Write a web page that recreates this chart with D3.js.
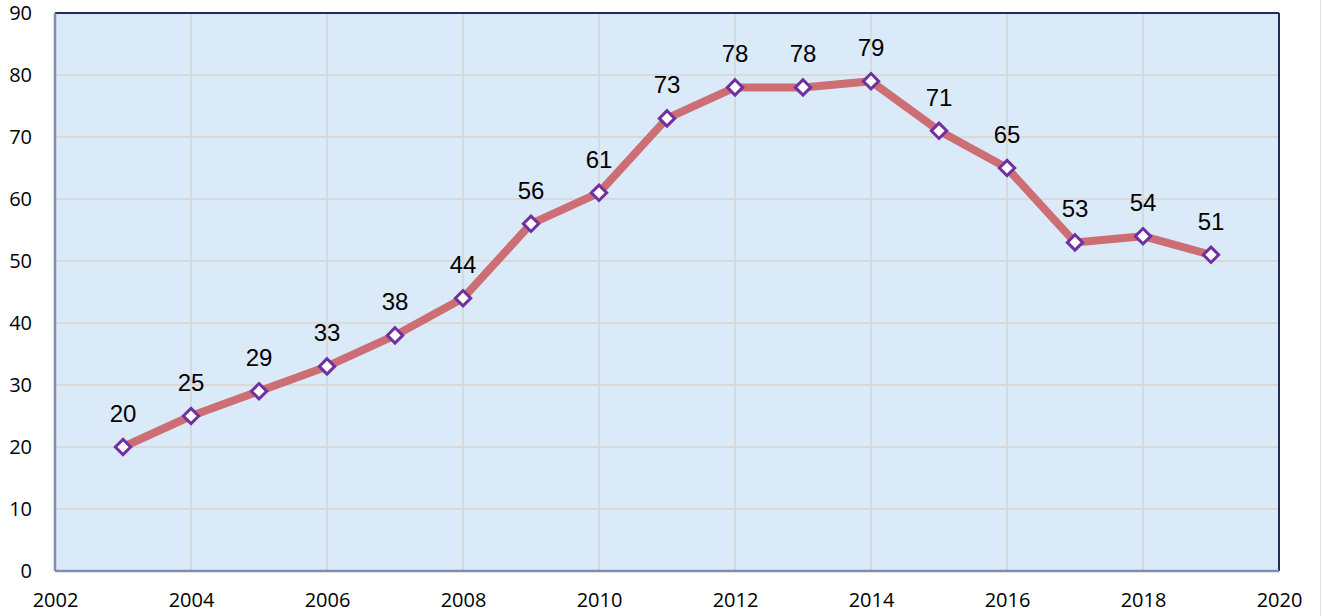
<!DOCTYPE html>
<html>
<head>
<meta charset="UTF-8">
<script src="https://d3js.org/d3.v7.min.js"></script>
<style>
  body { margin: 0; background: #ffffff; }
  svg { display: block; }
</style>
</head>
<body>
<svg width="1322" height="616"></svg>
<script>
  // data
  const years = [2003, 2004, 2005, 2006, 2007, 2008, 2009, 2010, 2011, 2012, 2013, 2014, 2015, 2016, 2017, 2018, 2019];
  const values = [20, 25, 29, 33, 38, 44, 56, 61, 73, 78, 78, 79, 71, 65, 53, 54, 51];
  const xTicks = [2002, 2004, 2006, 2008, 2010, 2012, 2014, 2016, 2018, 2020];
  const yTicks = [0, 10, 20, 30, 40, 50, 60, 70, 80, 90];

  const data = years.map((y, i) => ({ year: y, value: values[i] }));

  const plotL = 55, plotR = 1279, plotT = 13, plotB = 571;
  const svg = d3.select("svg");

  const x = d3.scaleLinear().domain([2002, 2020]).range([plotL, plotR]);
  const y = d3.scaleLinear().domain([0, 90]).range([plotB, plotT]);

  // plot background
  svg.append("rect")
     .attr("x", plotL).attr("y", plotT)
     .attr("width", plotR - plotL).attr("height", plotB - plotT)
     .style("fill", "#dbeaf8");

  // gridlines
  svg.selectAll("line.hgrid")
     .data(yTicks.slice(1, -1))
     .enter().append("line")
     .attr("x1", plotL).attr("x2", plotR)
     .attr("y1", d => y(d)).attr("y2", d => y(d))
     .style("stroke", "#d9d9d9").style("stroke-width", 2);

  svg.selectAll("line.vgrid")
     .data(xTicks.slice(1, -1))
     .enter().append("line")
     .attr("x1", d => x(d)).attr("x2", d => x(d))
     .attr("y1", plotT).attr("y2", plotB)
     .style("stroke", "#d9d9d9").style("stroke-width", 2);

  // frame: dark on top/right, grey-blue on left/bottom
  svg.append("line").attr("x1", plotL).attr("x2", plotR).attr("y1", plotT).attr("y2", plotT)
     .style("stroke", "#1f2d5e").style("stroke-width", 2);
  svg.append("line").attr("x1", plotR).attr("x2", plotR).attr("y1", plotT).attr("y2", plotB)
     .style("stroke", "#1f2d5e").style("stroke-width", 2);
  svg.append("line").attr("x1", plotL).attr("x2", plotL).attr("y1", plotT).attr("y2", plotB)
     .style("stroke", "#7f8db0").style("stroke-width", 2.5);
  svg.append("line").attr("x1", plotL).attr("x2", plotR).attr("y1", plotB).attr("y2", plotB)
     .style("stroke", "#7f8db0").style("stroke-width", 2.5);

  // axis labels
  const yAxis = d3.axisLeft(y).tickValues(yTicks).tickSize(0).tickPadding(23);
  svg.append("g").attr("transform", `translate(${plotL},0)`).call(yAxis)
     .call(g => g.select(".domain").remove())
     .selectAll("text")
     .style("font-family", "'Open Sans', sans-serif")
     .style("font-size", "20px").style("fill", "#000");

  const xAxis = d3.axisBottom(x).tickValues(xTicks).tickFormat(d3.format("d")).tickSize(0).tickPadding(22);
  svg.append("g").attr("transform", `translate(0,${plotB})`).call(xAxis)
     .call(g => g.select(".domain").remove())
     .selectAll("text")
     .style("font-family", "'Open Sans', sans-serif")
     .style("font-size", "20px").style("fill", "#000");

  // series line
  const line = d3.line().x(d => x(d.year)).y(d => y(d.value));
  svg.append("path")
     .datum(data)
     .attr("d", line)
     .style("fill", "none")
     .style("stroke", "#cc6e73")
     .style("stroke-width", 8)
     .style("stroke-linejoin", "round");

  // diamond markers
  const diamond = d3.symbol().type(d3.symbolDiamond2).size(150);
  svg.selectAll("path.marker")
     .data(data)
     .enter().append("path")
     .attr("transform", d => `translate(${x(d.year)},${y(d.value)})`)
     .attr("d", diamond)
     .style("fill", "#ffffff")
     .style("stroke", "#7030a0")
     .style("stroke-width", 3);

  // data labels
  svg.selectAll("text.val")
     .data(data)
     .enter().append("text")
     .attr("x", d => x(d.year))
     .attr("y", d => y(d.value) - 25)
     .attr("text-anchor", "middle")
     .style("font-family", "'Liberation Sans', Arial, sans-serif")
     .style("font-size", "24px")
     .style("fill", "#000")
     .text(d => d.value);

  // faint outer edge on right
  svg.append("line").attr("x1", 1320.5).attr("x2", 1320.5).attr("y1", 0).attr("y2", 616)
     .style("stroke", "#e0e0e0").style("stroke-width", 1);
</script>
</body>
</html>
